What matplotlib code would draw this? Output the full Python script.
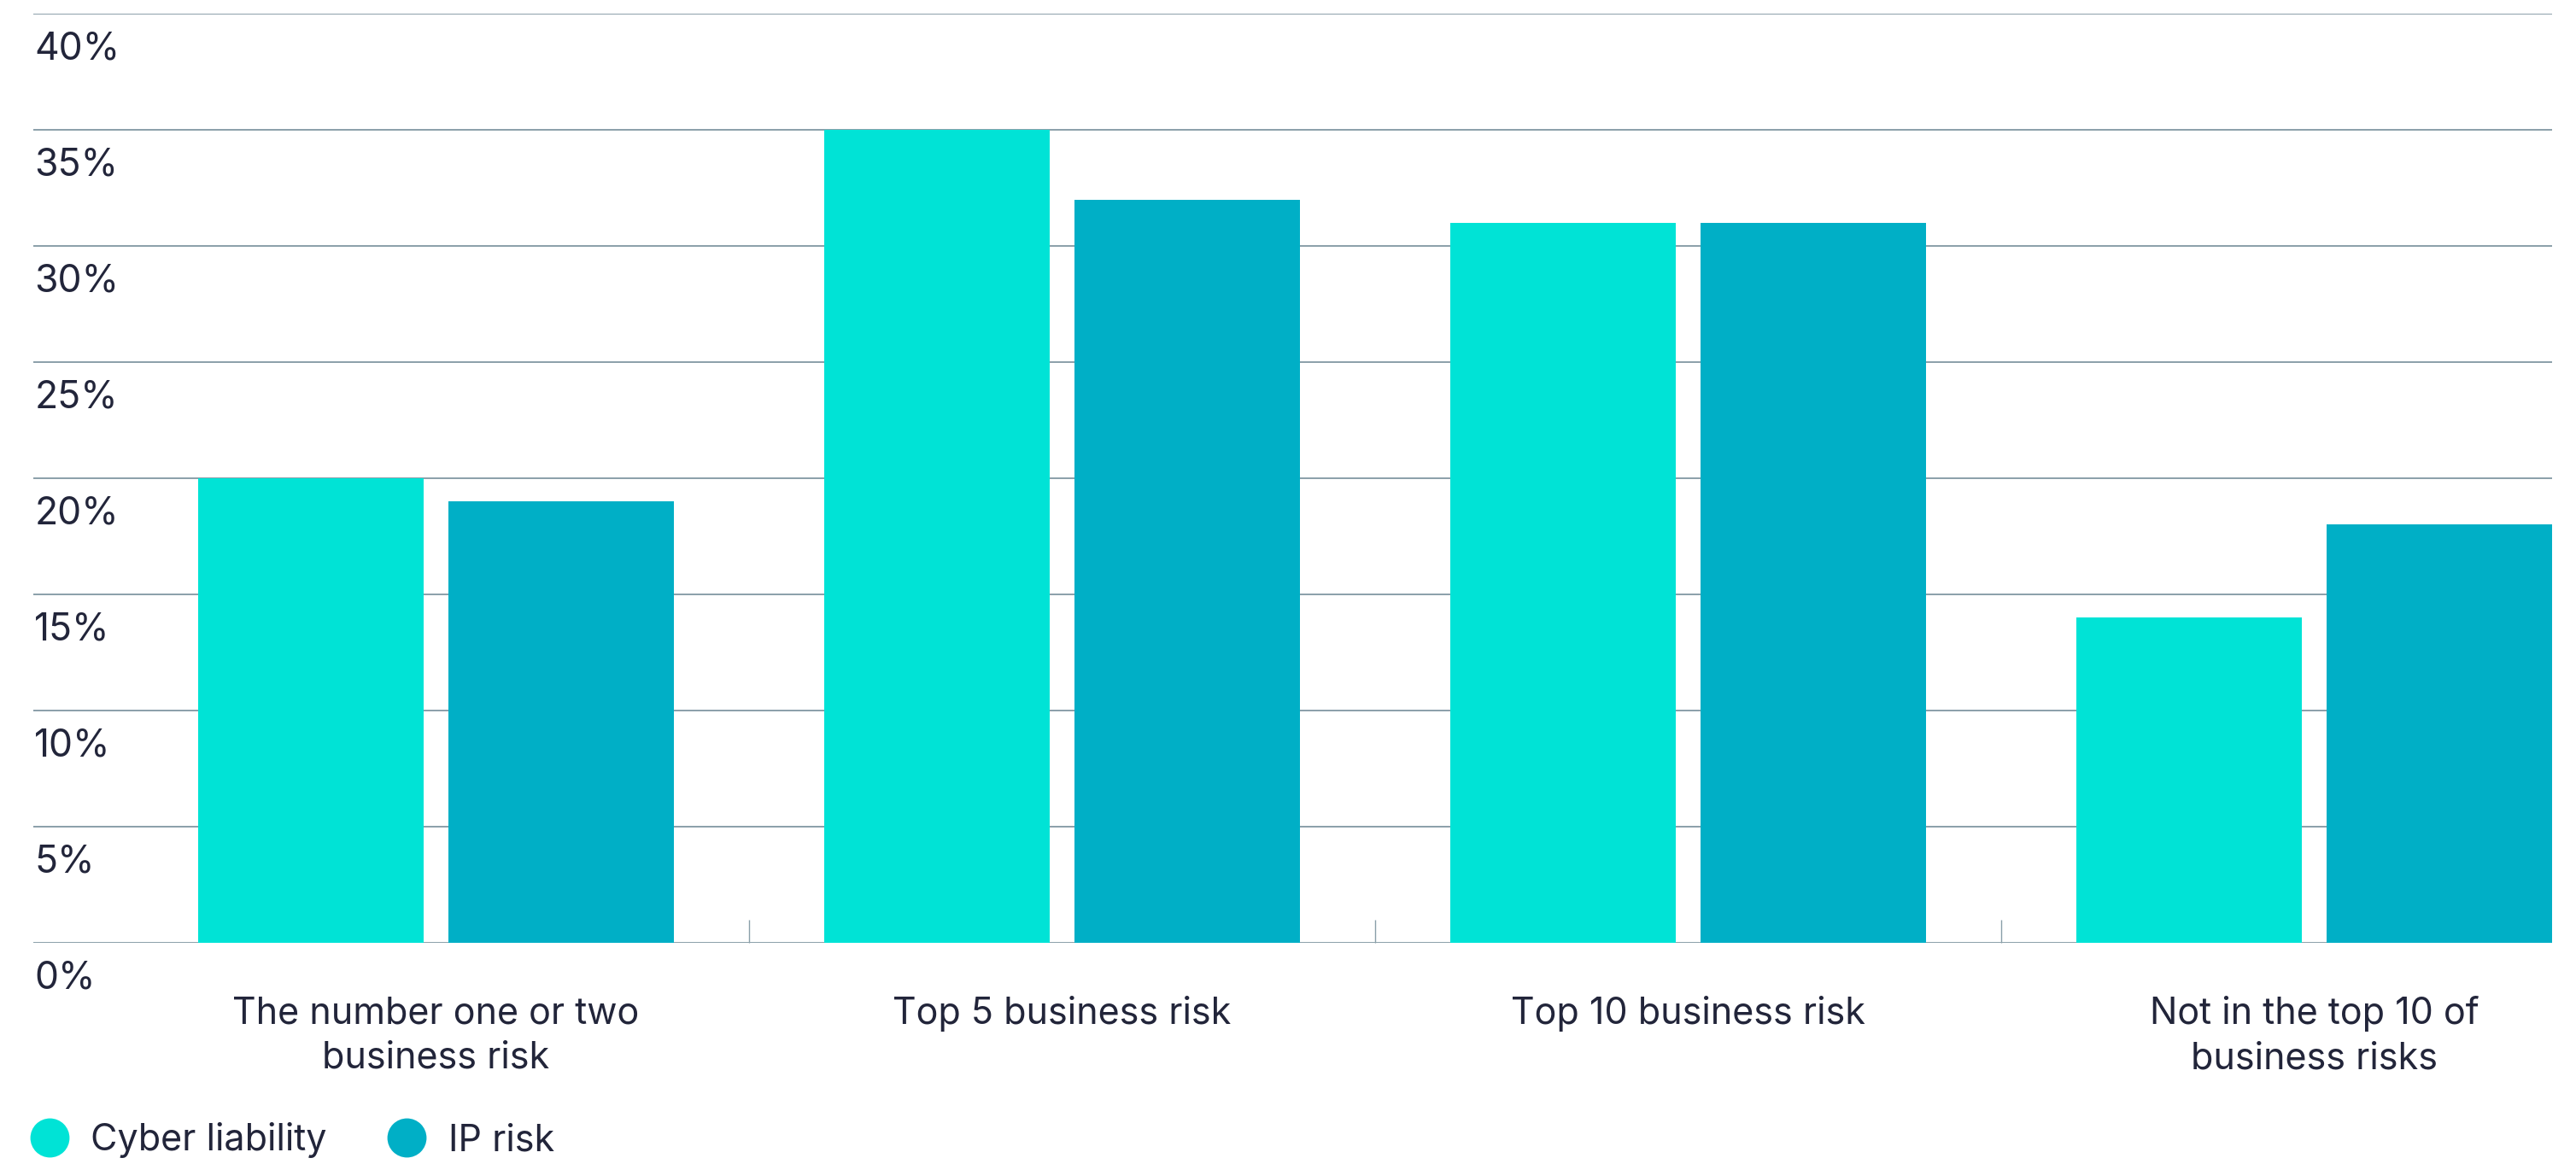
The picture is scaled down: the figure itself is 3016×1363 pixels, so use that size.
import matplotlib
matplotlib.use("Agg")
import numpy as np
import matplotlib.pyplot as plt
from matplotlib.lines import Line2D
from matplotlib.transforms import blended_transform_factory, offset_copy

categories = ["The number one or two\nbusiness risk", "Top 5 business risk",
              "Top 10 business risk", "Not in the top 10 of\nbusiness risks"]
cyber = [20, 35, 31, 14]
ip_risk = [19, 32, 31, 18]
series_names = ["Cyber liability", "IP risk"]
y_ticks = [0, 5, 10, 15, 20, 25, 30, 35, 40]
y_labels = ["0%", "5%", "10%", "15%", "20%", "25%", "30%", "35%", "40%"]

c_cyan = "#00E3D6"
c_teal = "#00AFC6"
c_text = "#22253A"
c_grid = "#8A9FA9"

plt.rcParams['font.family'] = ['Inter', 'DejaVu Sans']

W, H = 3016, 1363
fig = plt.figure(figsize=(W / 100, H / 100), dpi=100)
ax = fig.add_axes([39 / W, 1 - 1104 / H, (2988 - 39) / W, (1104 - 16) / H])

x = np.arange(len(categories))
bw = 0.36
ax.bar(x - 0.2, cyber, bw, color=c_cyan, zorder=3)
ax.bar(x + 0.2, ip_risk, bw, color=c_teal, zorder=3)

ax.set_xlim(-0.643, 3.38)
ax.set_ylim(0, 40)
for s in ax.spines.values():
    s.set_visible(False)

ax.set_yticks(y_ticks)
ax.set_yticklabels([])
ax.tick_params(axis='y', length=0)
ax.grid(axis='y', color=c_grid, lw=1.4, zorder=0)
ax.set_axisbelow(True)

# y labels sit just under each grid line
trans = offset_copy(blended_transform_factory(ax.transAxes, ax.transData),
                    fig=fig, x=1, y=-15, units='points')
for v, lab in zip(y_ticks, y_labels):
    ax.text(0, v, lab, transform=trans, ha='left', va='top',
            fontsize=32, color=c_text, clip_on=False)

ax.set_xticks(x)
ax.set_xticklabels(categories, fontsize=31, color=c_text, linespacing=1.33)
ax.tick_params(axis='x', which='major', length=0, pad=45)
ax.set_xticks(x[:-1] + 0.5, minor=True)
ax.tick_params(axis='x', which='minor', direction='in', length=19.5,
               width=1.0, color=c_grid)

handles = [Line2D([], [], marker='o', linestyle='none', markersize=33,
                  markerfacecolor=c, markeredgewidth=0) for c in (c_cyan, c_teal)]
leg = fig.legend(handles, series_names, loc='center left',
                 bbox_to_anchor=(35 / W, 1 - 1335 / H), ncol=2, frameon=False,
                 fontsize=31, borderpad=0, borderaxespad=0, handlelength=1.05,
                 handletextpad=0.6, columnspacing=1.65)
for t in leg.get_texts():
    t.set_color(c_text)

fig.savefig("out.png", dpi=100)
